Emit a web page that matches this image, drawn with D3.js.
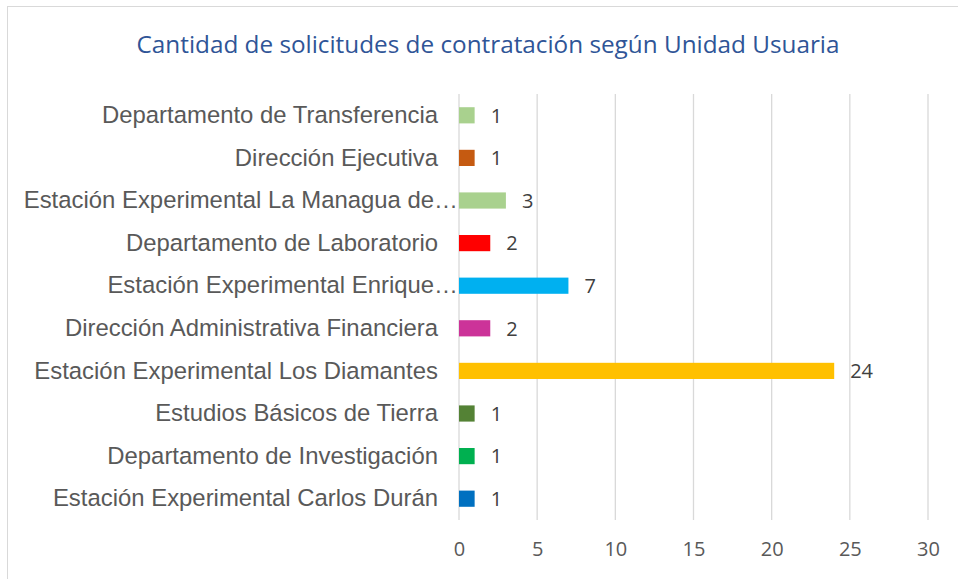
<!DOCTYPE html>
<html>
<head>
	<meta charset="utf-8">
	<title>Solicitudes de contratación</title>
	<style>
		body { margin: 0; background: #fff; }
		svg { display: block; }
	</style>
</head>
<body>
	<svg width="958" height="579"></svg>
<script src="https://cdn.jsdelivr.net/npm/d3@7"></script>
<script>
	// datos (de arriba hacia abajo)
	const categorias = [
		"Departamento de Transferencia",
		"Dirección Ejecutiva",
		"Estación Experimental La Managua de…",
		"Departamento de Laboratorio",
		"Estación Experimental Enrique…",
		"Dirección Administrativa Financiera",
		"Estación Experimental Los Diamantes",
		"Estudios Básicos de Tierra",
		"Departamento de Investigación",
		"Estación Experimental Carlos Durán"
	]
	const valores = [1, 1, 3, 2, 7, 2, 24, 1, 1, 1]
	const colores = ["#a9d18e", "#c55a11", "#a9d18e", "#ff0000", "#00b0f0",
		"#cc3399", "#ffc000", "#548235", "#00b050", "#0070c0"]
	const ticks = [0, 5, 10, 15, 20, 25, 30]
	const titulo = "Cantidad de solicitudes de contratación según Unidad Usuaria"

	const svg = d3.select("svg")

	// marco del gráfico
	svg.append("rect")
		.attr("x", 7.5).attr("y", 6.5)
		.attr("width", 960).attr("height", 580)
		.attr("fill", "#fff").attr("stroke", "#d9d9d9")

	svg.append("text")
		.attr("x", 488).attr("y", 53)
		.attr("text-anchor", "middle")
		.attr("font-family", "'Open Sans', sans-serif")
		.attr("font-size", 24.3)
		.attr("fill", "#2f5597")
		.text(titulo)

	// escalas
	const x = d3.scaleLinear().domain([0, 30]).range([459, 928])
	const y = d3.scaleBand().domain(categorias).range([94, 520]).paddingInner(0.62).paddingOuter(0.31)

	// líneas de cuadrícula
	svg.append("g").selectAll("line").data(ticks).enter().append("line")
		.attr("x1", x).attr("x2", x)
		.attr("y1", 94).attr("y2", 520)
		.attr("stroke", "#d9d9d9").attr("stroke-width", 1.3)

	// eje x
	const ejeX = svg.append("g")
		.attr("transform", "translate(0, 520)")
		.call(d3.axisBottom(x).tickValues(ticks).tickSize(0).tickPadding(22))
	ejeX.select(".domain").remove()
	ejeX.selectAll("text")
		.attr("font-family", "'Open Sans', sans-serif")
		.attr("font-size", 20)
		.attr("fill", "#595959")

	// eje y (etiquetas)
	const ejeY = svg.append("g")
		.attr("transform", "translate(459, 0)")
		.call(d3.axisLeft(y).tickSize(0).tickPadding(21))
	ejeY.select(".domain").remove()
	ejeY.selectAll("text")
		.attr("font-family", "'Liberation Sans', Arial, sans-serif")
		.attr("font-size", 23.9)
		.attr("fill", "#595959")
		.attr("dx", (d) => d.endsWith("…") ? 20 : 0)

	// barras
	svg.append("g").selectAll("rect").data(valores).enter().append("rect")
		.attr("x", x(0))
		.attr("y", (d, i) => y(categorias[i]))
		.attr("width", (d) => x(d) - x(0))
		.attr("height", y.bandwidth())
		.attr("fill", (d, i) => colores[i])

	// etiquetas de valor
	svg.append("g").selectAll("text").data(valores).enter().append("text")
		.attr("x", (d) => x(d) + 16)
		.attr("y", (d, i) => y(categorias[i]) + y.bandwidth() / 2)
		.attr("dy", "0.36em")
		.attr("font-family", "'Open Sans', sans-serif")
		.attr("font-size", 20)
		.attr("fill", "#404040")
		.text((d) => d)
</script>
</body>
</html>
